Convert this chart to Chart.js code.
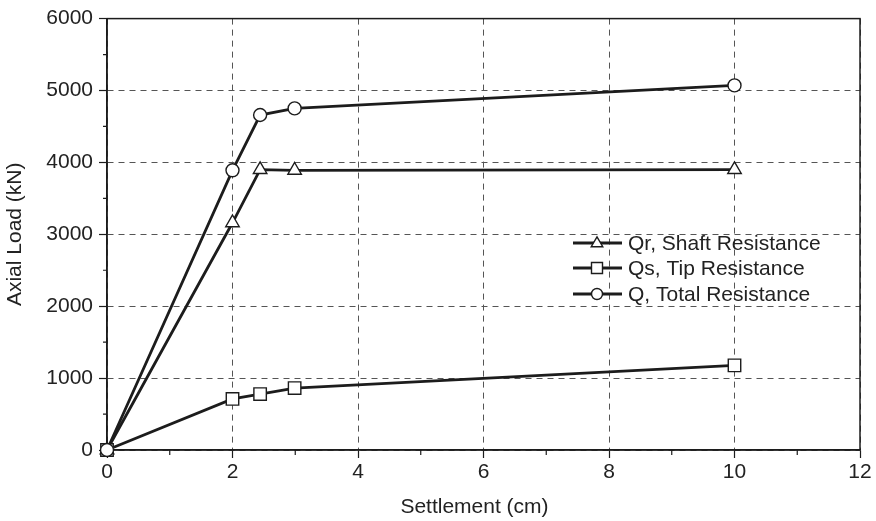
<!DOCTYPE html>
<html>
<head>
<meta charset="utf-8">
<script src="https://cdn.jsdelivr.net/npm/chart.js@4.4.1/dist/chart.umd.min.js"></script>
<style>
  html, body { margin: 0; padding: 0; background: #fff; }
  #wrap { width: 876px; height: 521px; position: relative; }
</style>
</head>
<body>
<div id="wrap"><canvas id="c" width="876" height="521"></canvas></div>
<script>
// ---- data ----
const settlement = [0, 2, 2.44, 2.99, 10];              // cm
const shaftResistance = [0, 3160, 3900, 3890, 3900];     // kN
const tipResistance   = [0, 710, 778, 861, 1177];        // kN
const totalResistance = [0, 3890, 4659, 4751, 5071];     // kN
const seriesLabels = ['Qr, Shaft Resistance', 'Qs, Tip Resistance', 'Q, Total Resistance'];
const seriesMarkers = ['triangle', 'rect', 'circle'];
const xTicks = [0, 2, 4, 6, 8, 10, 12];
const yTicks = [0, 1000, 2000, 3000, 4000, 5000, 6000];
const xTitle = 'Settlement (cm)';
const yTitle = 'Axial Load (kN)';

const FONT = '"Liberation Sans", Arial, Helvetica, sans-serif';
const FS = 21;
const INK = '#1c1c1c';
const TEXT = '#222';
const MARKER_R = { triangle: 7.8, rect: 8.8, circle: 6.5 };

function pts(ys) { return settlement.map((x, i) => ({ x: x, y: ys[i] })); }

function ds(label, ys, marker, order) {
  return {
    label: label,
    data: pts(ys),
    borderColor: INK,
    borderWidth: 2.8,
    backgroundColor: '#fff',
    pointStyle: marker,
    pointRadius: MARKER_R[marker],
    pointBorderWidth: 1.4,
    pointBorderColor: INK,
    pointBackgroundColor: '#fff',
    tension: 0,
    fill: false,
    clip: false,
    order: order
  };
}

const frameAndExtras = {
  id: 'frameAndExtras',
  beforeDatasetsDraw(chart) {
    const ctx = chart.ctx;
    const a = chart.chartArea;
    const xs = chart.scales.x, ys = chart.scales.y;
    ctx.save();
    ctx.setLineDash([]);
    // solid frame
    ctx.strokeStyle = INK;
    ctx.lineWidth = 1.5;
    ctx.strokeRect(a.left, a.top, a.right - a.left, a.bottom - a.top);
    // minor ticks (outward, short)
    ctx.lineWidth = 1.2;
    ctx.beginPath();
    for (let v = 1; v < 12; v += 2) {
      const px = xs.getPixelForValue(v);
      ctx.moveTo(px, a.bottom);
      ctx.lineTo(px, a.bottom + 5);
    }
    for (let v = 500; v < 6000; v += 1000) {
      const py = ys.getPixelForValue(v);
      ctx.moveTo(a.left, py);
      ctx.lineTo(a.left - 4, py);
    }
    ctx.stroke();
    // axis titles
    ctx.font = FS + 'px ' + FONT;
    ctx.fillStyle = TEXT;
    ctx.textAlign = 'center';
    ctx.textBaseline = 'middle';
    ctx.fillText(xTitle, (a.left + a.right) / 2 - 9, 507);
    ctx.translate(15, (a.top + a.bottom) / 2);
    ctx.rotate(-Math.PI / 2);
    ctx.fillText(yTitle, 0, 0);
    ctx.restore();
  },
  afterDatasetsDraw(chart) {
    const ctx = chart.ctx;
    ctx.save();
    ctx.setLineDash([]);
    // legend
    const lx0 = 573, lx1 = 622, mx = 597, tx = 628;
    const rows = [243, 268, 294];
    ctx.font = FS + 'px ' + FONT;
    ctx.textBaseline = 'middle';
    ctx.textAlign = 'left';
    chart.data.datasets.forEach((d, i) => {
      const y = rows[i];
      ctx.strokeStyle = INK;
      ctx.lineWidth = 2.8;
      ctx.beginPath();
      ctx.moveTo(lx0, y);
      ctx.lineTo(lx1, y);
      ctx.stroke();
      ctx.lineWidth = 1.4;
      ctx.fillStyle = '#fff';
      ctx.beginPath();
      const r = 5.5;
      if (d.pointStyle === 'circle') {
        ctx.arc(mx, y, r, 0, Math.PI * 2);
      } else if (d.pointStyle === 'rect') {
        ctx.rect(mx - r, y - r, 2 * r, 2 * r);
      } else {
        const h = r * 1.8;
        ctx.moveTo(mx, y - h * 0.62);
        ctx.lineTo(mx + r * 1.05, y + h * 0.38);
        ctx.lineTo(mx - r * 1.05, y + h * 0.38);
        ctx.closePath();
      }
      ctx.fill();
      ctx.stroke();
      ctx.fillStyle = TEXT;
      ctx.fillText(d.label, tx, y + 1);
    });
    ctx.restore();
  }
};

const gridOpts = {
  color: '#555', lineWidth: 1,
  drawTicks: true, tickLength: 8, tickColor: INK, tickBorderDash: [], tickWidth: 1.2
};
const borderOpts = { display: true, color: INK, width: 1.5, dash: [6, 5] };

new Chart(document.getElementById('c'), {
  type: 'line',
  data: {
    datasets: [
      ds(seriesLabels[0], shaftResistance, seriesMarkers[0], 2),
      ds(seriesLabels[1], tipResistance, seriesMarkers[1], 1),
      ds(seriesLabels[2], totalResistance, seriesMarkers[2], 0)
    ]
  },
  options: {
    responsive: false,
    animation: false,
    devicePixelRatio: 1,
    layout: { padding: { top: 13, right: 16, left: 0, bottom: 0 } },
    plugins: { legend: { display: false }, tooltip: { enabled: false } },
    scales: {
      x: {
        type: 'linear',
        min: 0, max: 12,
        afterBuildTicks(s) { s.ticks = xTicks.map(v => ({ value: v })); },
        afterFit(s) { s.height = 71; },
        ticks: { color: TEXT, font: { size: FS, family: FONT }, padding: 2, maxRotation: 0,
                 callback: v => String(v) },
        grid: gridOpts,
        border: borderOpts,
        title: { display: false }
      },
      y: {
        type: 'linear',
        min: 0, max: 6000,
        afterBuildTicks(s) { s.ticks = yTicks.map(v => ({ value: v })); },
        afterFit(s) { s.width = 107; },
        ticks: { color: TEXT, font: { size: FS, family: FONT }, padding: 6,
                 callback: v => String(v) },
        grid: gridOpts,
        border: borderOpts,
        title: { display: false }
      }
    }
  },
  plugins: [frameAndExtras]
});
</script>
</body>
</html>
